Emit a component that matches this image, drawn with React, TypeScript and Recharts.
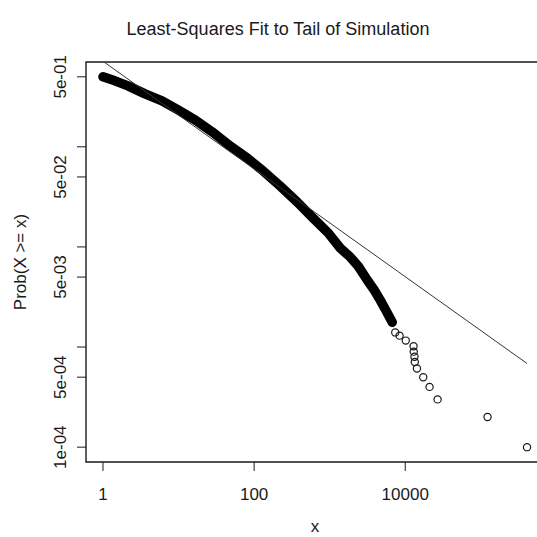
import React from "react"
import {
    ComposedChart,
    Line,
    Scatter,
    XAxis,
    YAxis,
    ReferenceArea
} from "recharts"

// dense part of the simulated tail (band of overlapping circles)
const bandX = [1, 1.44, 2.14, 3.6, 6.04, 9.85, 16.5, 27.8, 48.1, 80.7, 131.6, 221, 371, 604, 955, 1377, 1870, 2384, 3139, 3882, 4667, 5600, 6730]
const bandP = [0.5, 0.456, 0.406, 0.338, 0.288, 0.234, 0.186, 0.141, 0.102, 0.0775, 0.0574, 0.0406, 0.0281, 0.0194, 0.0138, 0.00975, 0.00792, 0.00644, 0.00467, 0.00371, 0.00294, 0.00229, 0.00177]

// sparse points at the far end of the tail
const tailX = [7375, 8410, 10160, 12880, 12960, 13250, 13370, 14290, 17300, 20980, 26800, 122700, 409000]
const tailP = [0.0014, 0.0013, 0.00116, 0.00102, 0.0009, 0.0008, 0.00071, 0.00061, 0.0005, 0.0004, 0.0003, 0.0002, 0.0001]

// least-squares line, endpoints
const fitX = [1, 409000]
const fitP = [0.715, 0.000685]

const xTicks = [1, 100, 10000]
const yTicks = [1e-4, 5e-4, 1e-3, 5e-3, 1e-2, 5e-2, 1e-1, 5e-1]
const yTickLabels = ["1e-04", "5e-04", "", "5e-03", "", "5e-02", "", "5e-01"]

const xDomain = [0.596, 686000]
const yDomain = [7.11e-5, 0.703]

const FONT = "'Liberation Sans', Arial, Helvetica, sans-serif"
const INK = "#1a1a1a"

const band = bandX.map((x, i) => ({ x, p: bandP[i] }))
const tail = tailX.map((x, i) => ({ x, p: tailP[i] }))
const fit = fitX.map((x, i) => ({ x, p: fitP[i] }))

function XTick(props: any) {
    const { x, payload } = props
    return (
        <text x={x} y={500} textAnchor="middle" fontSize={17} fontFamily={FONT} fill={INK}>
            {String(payload.value)}
        </text>
    )
}

function YTick(props: any) {
    const { y, payload } = props
    const idx = yTicks.indexOf(payload.value)
    const label = idx >= 0 ? yTickLabels[idx] : ""
    if (!label) return null
    return (
        <text
            x={66}
            y={y}
            transform={`rotate(-90, 66, ${y})`}
            textAnchor="middle"
            fontSize={17}
            fontFamily={FONT}
            fill={INK}
        >
            {label}
        </text>
    )
}

function Ring(props: any) {
    const { cx, cy } = props
    if (cx == null || cy == null) return null
    return <circle cx={cx} cy={cy} r={3.6} fill="none" stroke={INK} strokeWidth={1.2} />
}

export default function App() {
    return (
        <div
            style={{
                position: "absolute",
                left: 0,
                top: 0,
                width: 537,
                height: 537,
                overflow: "hidden",
                background: "#fff"
            }}
        >
            <ComposedChart width={554} height={537} margin={{ top: 62, right: 10, bottom: 45, left: 56 }}>
                <XAxis
                    type="number"
                    dataKey="x"
                    scale="log"
                    domain={xDomain}
                    allowDataOverflow
                    ticks={xTicks}
                    tick={<XTick />}
                    tickSize={9}
                    tickLine={{ stroke: INK, strokeWidth: 1 }}
                    axisLine={false}
                    height={30}
                    interval={0}
                />
                <YAxis
                    type="number"
                    dataKey="p"
                    scale="log"
                    domain={yDomain}
                    allowDataOverflow
                    ticks={yTicks}
                    tick={<YTick />}
                    tickSize={9}
                    tickLine={{ stroke: INK, strokeWidth: 1 }}
                    axisLine={false}
                    width={30}
                    interval={0}
                />
                <ReferenceArea
                    x1={xDomain[0]}
                    x2={xDomain[1]}
                    y1={yDomain[0]}
                    y2={yDomain[1]}
                    fill="none"
                    fillOpacity={0}
                    stroke={INK}
                    strokeWidth={1.4}
                    ifOverflow="visible"
                />
                <Line
                    data={band}
                    dataKey="p"
                    stroke="#000"
                    strokeWidth={9.5}
                    strokeLinecap="round"
                    strokeLinejoin="round"
                    dot={false}
                    activeDot={false}
                    isAnimationActive={false}
                />
                <Line
                    data={fit}
                    dataKey="p"
                    stroke="#333"
                    strokeWidth={1}
                    dot={false}
                    activeDot={false}
                    isAnimationActive={false}
                />
                <Scatter data={tail} dataKey="p" shape={<Ring />} isAnimationActive={false} />
            </ComposedChart>
            <svg
                width={537}
                height={537}
                style={{ position: "absolute", left: 0, top: 0, pointerEvents: "none" }}
            >
                <text x={278} y={35} textAnchor="middle" fontSize={18} fontFamily={FONT} fill={INK}>
                    Least-Squares Fit to Tail of Simulation
                </text>
                <text x={315} y={532} textAnchor="middle" fontSize={17} fontFamily={FONT} fill={INK}>
                    x
                </text>
                <text
                    x={26}
                    y={262}
                    transform="rotate(-90, 26, 262)"
                    textAnchor="middle"
                    fontSize={17}
                    fontFamily={FONT}
                    fill={INK}
                >
                    Prob(X &gt;= x)
                </text>
            </svg>
        </div>
    )
}
